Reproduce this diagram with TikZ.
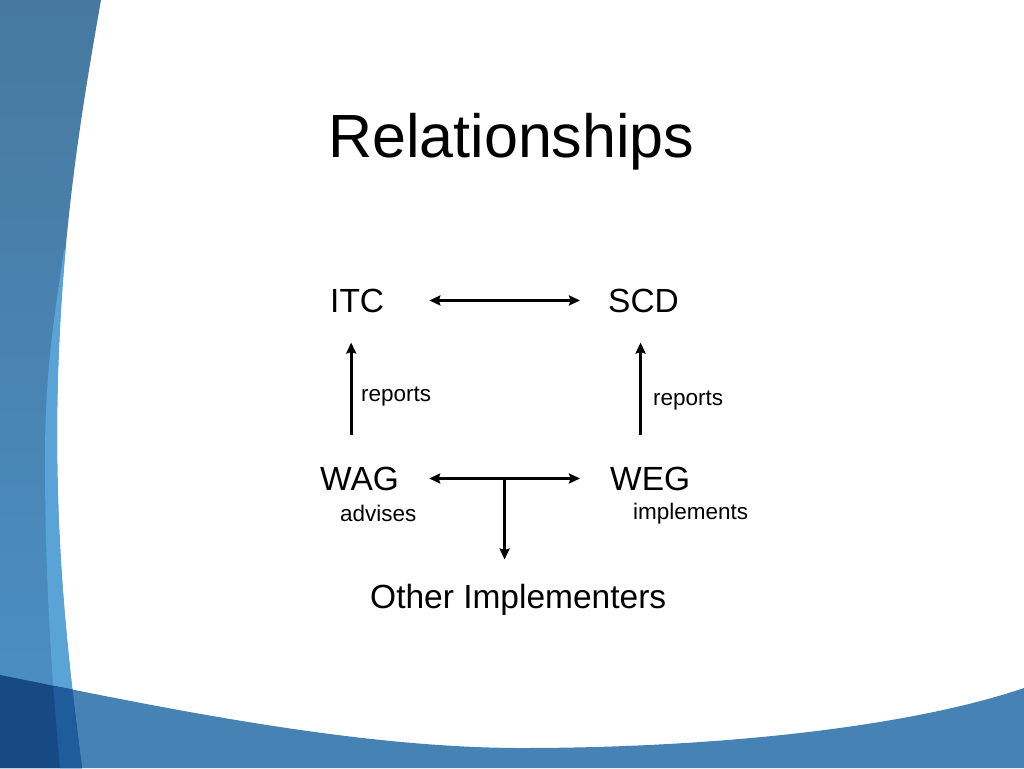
\documentclass[tikz,border=0pt]{standalone}
\usepackage{fontspec}
\setmainfont{Liberation Sans}
\usetikzlibrary{arrows.meta,calc}
\definecolor{bandtop}{HTML}{47799E}
\definecolor{bandbot}{HTML}{4B90C8}
\definecolor{bandlight}{HTML}{5AA3D6}
\definecolor{wavesteel}{HTML}{4682B4}
\definecolor{wavenavy}{HTML}{174A85}
\definecolor{wavemid}{HTML}{1E5C9C}

\begin{document}
\begin{tikzpicture}[x=1pt,y=-1pt,
    lbl/.style={anchor=base west,inner sep=0pt,font=\fontsize{33.5}{40}\selectfont},
    note/.style={anchor=base west,inner sep=0pt,font=\fontsize{22.5}{27}\selectfont},
    arr/.style={line width=3pt,-{Stealth[length=11pt,width=10pt,inset=1.5pt]}},
    darr/.style={line width=3pt,{Stealth[length=11pt,width=10pt,inset=1.5pt]}-{Stealth[length=11pt,width=10pt,inset=1.5pt]}}]
\useasboundingbox (0,0) rectangle (1024,768);
\fill[white] (0,0) rectangle (1024,768);

% Left band
\def\bandpath{(0,0) -- (101,0) .. controls (80,120) and (58,250) .. (57,430)
    .. controls (57,560) and (68,660) .. (82,768) -- (0,768) -- cycle}
\shade[top color=bandtop,bottom color=bandbot] \bandpath;
\begin{scope}
    \clip \bandpath;
    \fill[bandlight] (64,250) .. controls (52,330) and (45,380) .. (45,460)
        .. controls (45,580) and (52,680) .. (60,768) -- (140,768) -- (140,250) -- cycle;
\end{scope}

% Bottom wave
\def\wavepath{(0,675) .. controls (150,705) and (350,748) .. (522,748)
    .. controls (700,748) and (900,730) .. (1024,688) -- (1024,768) -- (0,768) -- cycle}
\fill[wavesteel] \wavepath;
\begin{scope}
    \clip \wavepath;
    \fill[wavenavy] \bandpath;
    \clip \bandpath;
    \fill[wavemid] (64,250) .. controls (52,330) and (45,380) .. (45,460)
        .. controls (45,580) and (52,680) .. (60,768) -- (140,768) -- (140,250) -- cycle;
\end{scope}

% Title
\node[anchor=base west,inner sep=0pt,font=\fontsize{61}{70}\selectfont] (title) at (328,157) {Relationships};

% Groups
\node[lbl] (itc) at (330,312) {ITC};
\node[lbl] (scd) at (608,312) {SCD};
\node[lbl] (wag) at (320,490) {WAG};
\node[lbl] (weg) at (610,490) {WEG};
\node[lbl] (other) at (370,608) {Other Implementers};

% Small labels
\node[note] (repl) at (361,401) {reports};
\node[note] (repr) at (653,405) {reports};
\node[note] (adv) at (340,521) {advises};
\node[note] (impl) at (633,519) {implements};

% Arrows
\draw[darr,shorten <=45pt,shorten >=28pt] (itc.east) -- (scd.west);
\draw[darr,shorten <=30pt,shorten >=30pt] (wag.east) -- (weg.west);
\draw[arr,shorten <=31pt,shorten >=30pt] ($(wag.north -| itc.south)+(-6,0)$) -- ($(itc.south)+(-6,0)$);
\draw[arr,shorten <=31pt,shorten >=30pt] ($(weg.north -| scd.south)+(-3,0)$) -- ($(scd.south)+(-3,0)$);
\coordinate (junc) at ($(wag.east)!0.5!(weg.west)$);
\draw[arr,shorten >=24pt] (junc) -- (junc |- other.north);
\end{tikzpicture}
\end{document}
